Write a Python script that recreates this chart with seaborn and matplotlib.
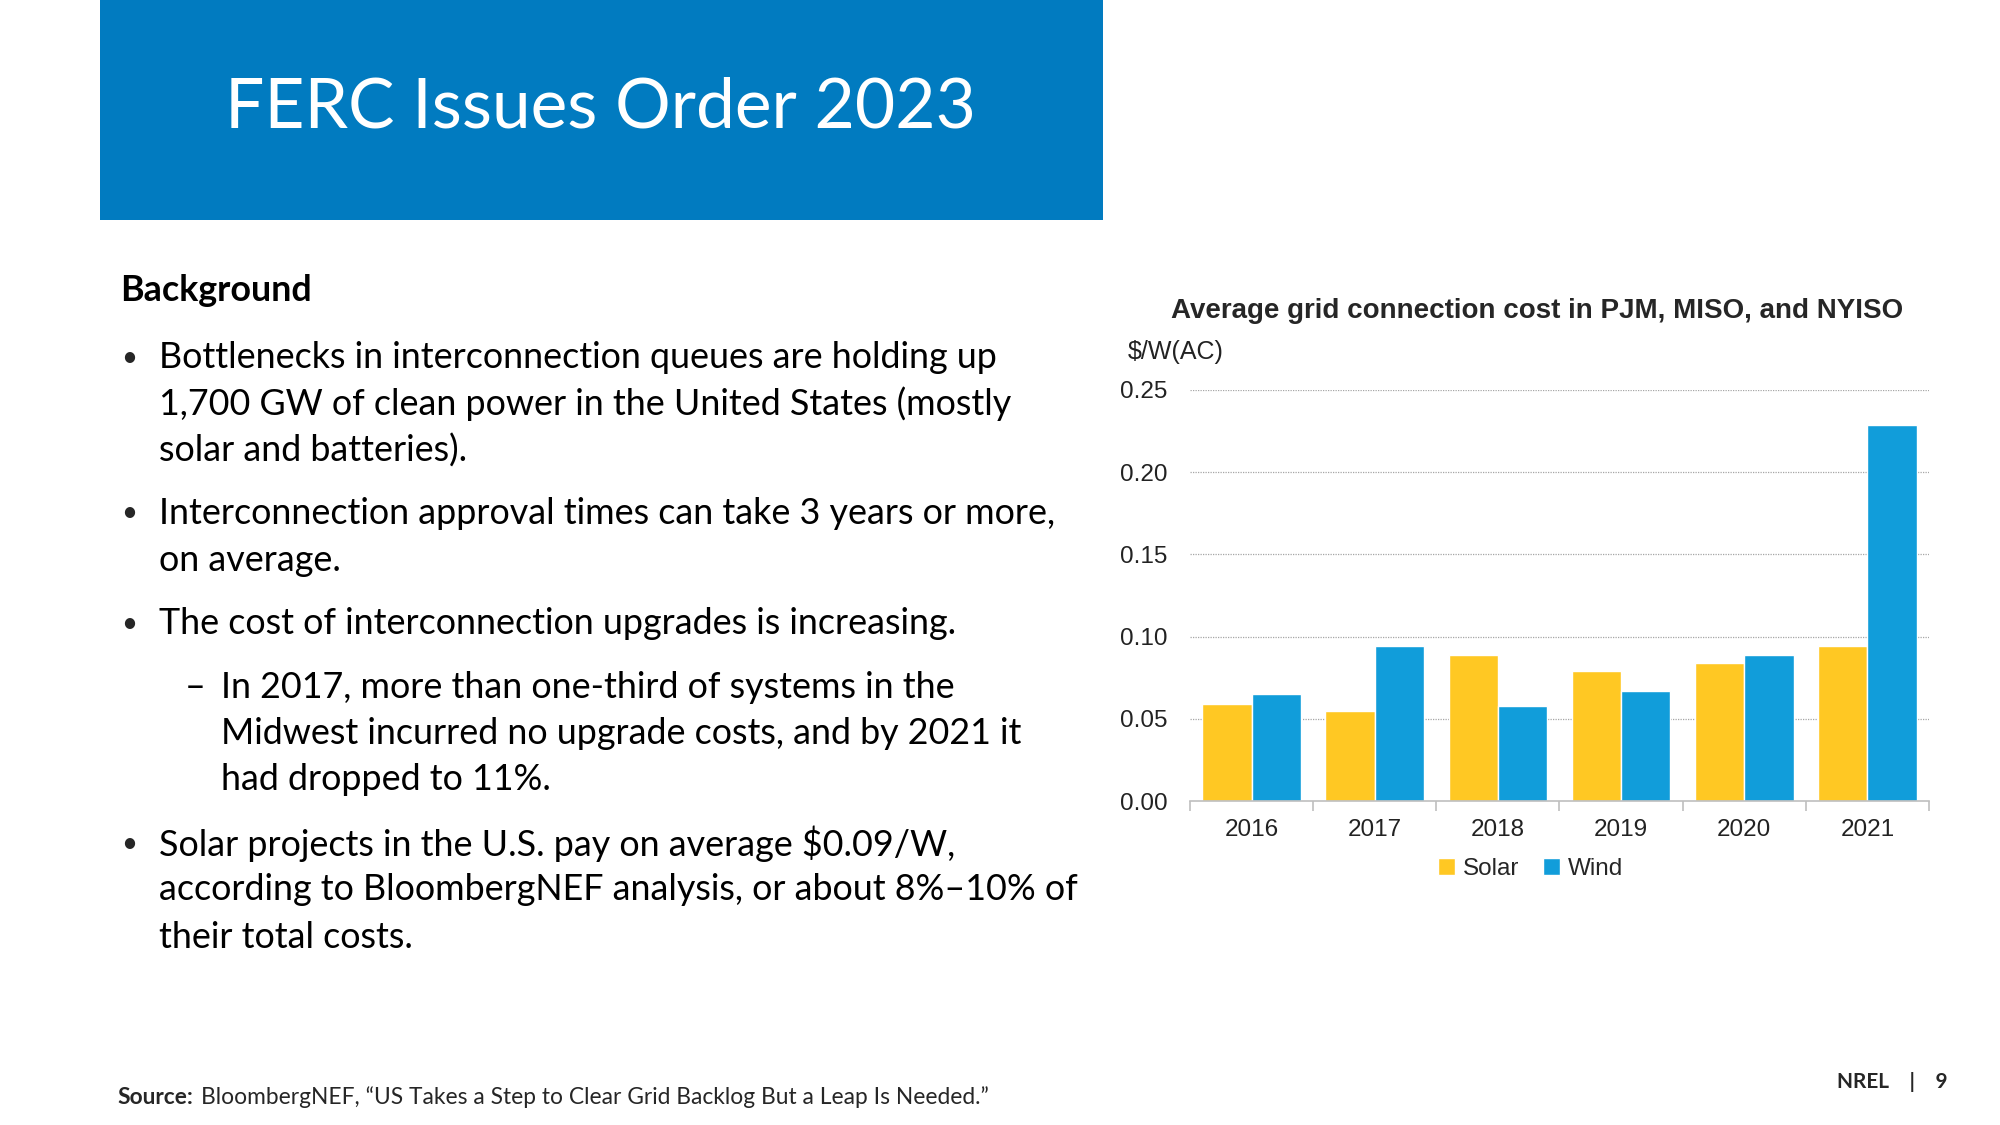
import pandas as pd
import matplotlib.pyplot as plt
import seaborn as sns
from matplotlib.patches import Rectangle
from matplotlib.ticker import FixedLocator

# Data
years = ['2016', '2017', '2018', '2019', '2020', '2021']
solar = [0.059, 0.055, 0.089, 0.079, 0.084, 0.094]
wind = [0.065, 0.094, 0.058, 0.067, 0.089, 0.229]
y_ticks = [0.00, 0.05, 0.10, 0.15, 0.20, 0.25]

bullets = [
    ('•', ['Bottlenecks in interconnection queues are holding up',
           '1,700 GW of clean power in the United States (mostly',
           'solar and batteries).']),
    ('•', ['Interconnection approval times can take 3 years or more,',
           'on average.']),
    ('•', ['The cost of interconnection upgrades is increasing.']),
    ('–', ['In 2017, more than one-third of systems in the',
           'Midwest incurred no upgrade costs, and by 2021 it',
           'had dropped to 11%.']),
    ('•', ['Solar projects in the U.S. pay on average $0.09/W,',
           'according to BloombergNEF analysis, or about 8%–10% of',
           'their total costs.']),
]
line_y = [[358, 404, 451], [513, 561], [624], [688, 734, 780], [844, 890, 937]]

df = pd.DataFrame({'year': years, 'Solar': solar, 'Wind': wind})
df = df.melt(id_vars='year', var_name='type', value_name='cost')

sns.set_theme(style='white')
plt.rcParams['font.family'] = ['Liberation Sans', 'DejaVu Sans']

W, H = 2000, 1125
fx = lambda px: px / W
fy = lambda py: 1 - py / H
lato = ['Lato', 'DejaVu Sans']

fig = plt.figure(figsize=(20, 11.25), dpi=100)

# header band
fig.add_artist(Rectangle((fx(100), fy(220)), fx(1003), 220 / H,
                         transform=fig.transFigure, color='#017BC0', lw=0))
fig.text(fx(600), fy(108), 'FERC Issues Order 2023', color='white', size=50,
         family=lato, weight='normal', ha='center', va='center')

# left text
body = dict(family=lato, size=25.8, color='black', va='center')
fig.text(fx(120), fy(291), 'Background', weight='bold', **body)
for (mark, lines), ys in zip(bullets, line_y):
    if mark == '•':
        fig.text(fx(121), fy(ys[0]), mark, family=lato, size=20, va='center')
        tx = 159
    else:
        fig.text(fx(185), fy(ys[0]), mark, **body)
        tx = 221
    for line, y in zip(lines, ys):
        fig.text(fx(tx), fy(y), line, **body)

fig.text(fx(117), fy(1097), 'Source:', family=lato, size=16.4,
         weight='bold', va='center')
fig.text(fx(201), fy(1097), 'BloombergNEF, \u201cUS Takes a Step to Clear Grid Backlog But a Leap Is Needed.\u201d',
         family=lato, size=16.4, va='center')
fig.text(fx(1948), fy(1082), 'NREL    |    9', family=lato, size=15,
         weight='bold', ha='right', va='center')

# chart
ax = fig.add_axes([fx(1190), fy(801), (1929 - 1190) / W, (801 - 390) / H])
sns.barplot(data=df, x='year', y='cost', hue='type', palette=['#FFC823', '#119DDA'],
            width=0.8, saturation=1, ax=ax)
ax.set_ylim(0, 0.25)
ax.set_xlim(-0.5, len(years) - 0.5)
ax.set_yticks(y_ticks)
ax.set_yticklabels([f'{t:.2f}' for t in y_ticks])
ax.set_xlabel('')
ax.set_ylabel('')
for t in y_ticks[1:]:
    ax.axhline(t, color='#A6A6A6', lw=0.9, ls=(0, (1, 1)), zorder=0)
for s in ['left', 'top', 'right']:
    ax.spines[s].set_visible(False)
ax.spines['bottom'].set_color('#BFBFBF')
ax.spines['bottom'].set_linewidth(1.2)
ax.xaxis.set_minor_locator(FixedLocator([i - 0.5 for i in range(len(years) + 1)]))
ax.tick_params(axis='x', which='minor', bottom=True, length=7, color='#BFBFBF', width=1.2)
ax.tick_params(axis='x', which='major', length=0, pad=13, labelsize=17.5, labelcolor='#222222')
ax.tick_params(axis='y', length=0, pad=16, labelsize=17.5, labelcolor='#222222')

ax.legend(loc='center', bbox_to_anchor=(0.461, -0.165), ncol=2, frameon=False,
          fontsize=17.5, handlelength=0.7, handleheight=0.7, handletextpad=0.3,
          columnspacing=1.0)

fig.text(fx(1537), fy(311), 'Average grid connection cost in PJM, MISO, and NYISO',
         size=20, weight='bold', ha='center', va='center')
fig.text(fx(1128), fy(352), '$/W(AC)', size=18, color='#222222', ha='left', va='center')

plt.savefig('out.png', dpi=100)
plt.close()
